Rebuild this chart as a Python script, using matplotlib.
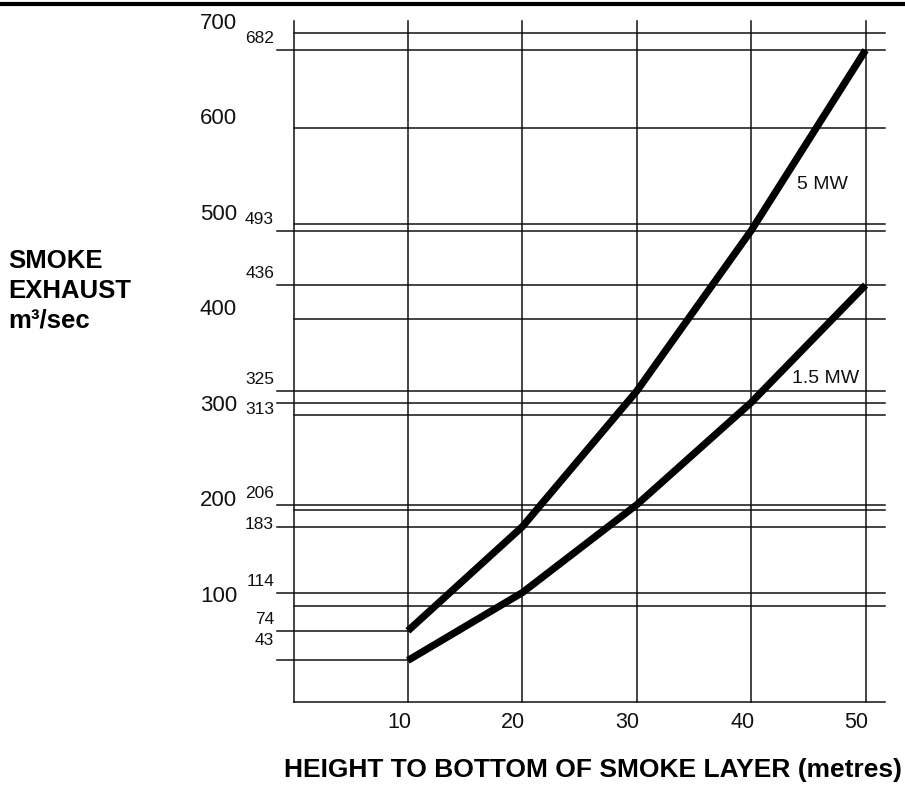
import matplotlib
matplotlib.use("Agg")
import matplotlib.pyplot as plt
from matplotlib.lines import Line2D

# smoke exhaust rate (m3/sec) against height to bottom of smoke layer (m)
heights = [10, 20, 30, 40, 50]
exhaust_5mw = [74, 183, 325, 493, 682]
exhaust_15mw = [43, 114, 206, 313, 436]
major_ticks = [100, 200, 300, 400, 500, 600, 700]
marked_values = [682, 493, 436, 325, 313, 206, 183, 114, 74, 43]
short_marks = [74, 43]   # these stop at the first curve point

# label nudges (pixels) for the marked values, default sits above the line
mark_dy = {313: -7, 183: 2.5, 43: 20}

W, H = 905, 785
fig = plt.figure(figsize=(W / 100, H / 100), dpi=100)
x0, x1, y0, y1 = 293.5, 885, 701.5, 21
ax = fig.add_axes([x0 / W, 1 - y0 / H, (x1 - x0) / W, (y0 - y1) / H])
xmax, ymax = 51.7, 712.5
ax.set_xlim(0, xmax)
ax.set_ylim(0, ymax)
ax.axis("off")

sans = ["Liberation Sans", "DejaVu Sans"]
ink = "#111111"
lw = 1.1
left_stub = -1.44

# frame: left axis + bottom axis
ax.plot([0, 0], [0, ymax], color=ink, lw=lw, clip_on=False)
ax.plot([0, xmax], [0, 0], color=ink, lw=lw, clip_on=False)

# vertical grid
for h in heights:
    ax.plot([h, h], [0, ymax], color=ink, lw=lw, clip_on=False)

# major horizontal lines + labels
for v in major_ticks:
    ax.plot([0, xmax], [v, v], color=ink, lw=lw, clip_on=False)
    ax.annotate(str(v), (0, v), xytext=(-56.5, 9.5), textcoords="offset pixels",
                ha="right", va="center", fontsize=16, family=sans, color=ink)

# marked values
for v in marked_values:
    end = heights[0] if v in short_marks else xmax
    ax.plot([left_stub, end], [v, v], color=ink, lw=lw, clip_on=False)
    ax.annotate(str(v), (0, v), xytext=(-19.5, mark_dy.get(v, 11.5)),
                textcoords="offset pixels", ha="right", va="center",
                fontsize=12.5, family=sans, color=ink)

# x tick labels
for h in heights:
    ax.annotate(str(h), (h, 0), xytext=(3, -11), textcoords="offset pixels",
                ha="right", va="top", fontsize=15.5, family=sans, color=ink)

# curves
ax.plot(heights, exhaust_5mw, color="black", lw=5.2, solid_capstyle="butt",
        solid_joinstyle="round", clip_on=False)
ax.plot(heights, exhaust_15mw, color="black", lw=5.2, solid_capstyle="butt",
        solid_joinstyle="round", clip_on=False)
ax.text(44.0, 532, "5 MW", ha="left", va="bottom", fontsize=14, family=sans, color=ink)
ax.text(43.6, 329, "1.5 MW", ha="left", va="bottom", fontsize=14, family=sans, color=ink)

# axis titles
fig.text(8 / W, 1 - 249 / H, "SMOKE\nEXHAUST\nm\u00b3/sec", ha="left", va="top",
         fontsize=18.5, fontweight="bold", family=sans, linespacing=1.3)
fig.text(593 / W, 1 - 782 / H, "HEIGHT TO BOTTOM OF SMOKE LAYER (metres)",
         ha="center", va="bottom", fontsize=19, fontweight="bold", family=sans)

# page rule along the top
fig.add_artist(Line2D([0, 1], [1 - 4 / H, 1 - 4 / H], color="black", lw=3,
                      transform=fig.transFigure))

fig.savefig("out.png", dpi=100)
